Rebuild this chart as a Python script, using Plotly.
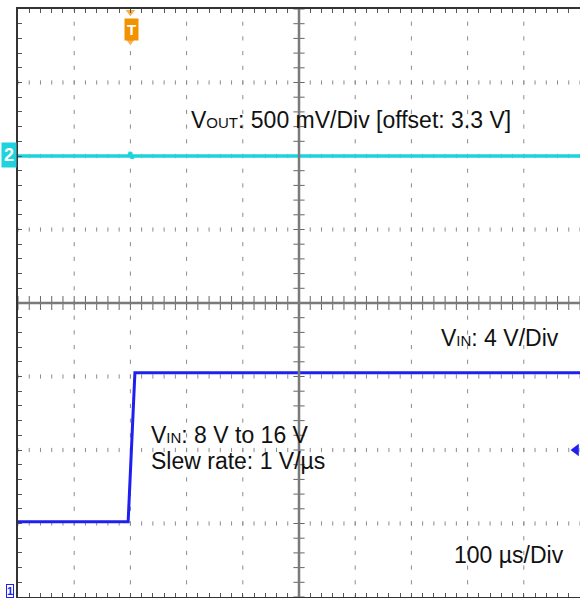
import numpy as np
import plotly.graph_objects as go

# screen: 10 div x 100 us, trigger at 0 us (2nd division); vertical in divisions (-4..4)
T_MIN, T_MAX = -200, 800

# VOUT (ch2): 500 mV/Div, offset 3.3 V, trace placed at +2 div
vout_t = [-200, -3, 0, 3, 6, 12, 800]
vout_v = [3.30, 3.30, 3.325, 3.285, 3.30, 3.30, 3.30]
VOUT_SCALE, VOUT_OFFSET, VOUT_POS = 0.5, 3.3, 2.0

# VIN (ch1): 4 V/Div, ground at -5 div (off screen)
vin_t = [-200, -4, 8, 800]
vin_v = [8.1, 8.1, 16.2, 16.2]
VIN_SCALE, VIN_POS = 4.0, -5.0
TRIG_LEVEL = 12.0

W, H = 580, 598
ML, MR, MT, MB = 18, 0, 9, 1
PW, PH = W - ML - MR, H - MT - MB


def px(x):  # pixel -> paper
    return (x - ML) / PW


def py(y):
    return (H - MB - y) / PH


vout_div = [(v - VOUT_OFFSET) / VOUT_SCALE + VOUT_POS for v in vout_v]
vin_div = [v / VIN_SCALE + VIN_POS for v in vin_v]

fig = go.Figure()

# dotted graticule
grid_x = [t for t in range(T_MIN + 100, T_MAX, 100) if t != 300]
grid_y = [-3, -2, -1, 1, 2, 3]
minor_y = np.round(np.arange(-4, 4.001, 0.2), 3)
minor_x = np.arange(T_MIN, T_MAX + 1, 20)
dx, dy = [], []
for gx in grid_x:
    dx += [gx] * len(minor_y)
    dy += list(minor_y)
for gy in grid_y:
    dx += list(minor_x)
    dy += [gy] * len(minor_x)
fig.add_trace(go.Scatter(x=dx, y=dy, mode="markers", hoverinfo="skip",
                         marker=dict(symbol="line-ns", size=3, color="#8c8c8c",
                                     line=dict(color="#8c8c8c", width=1))))

# centre cross with ticks
fig.add_shape(type="line", x0=T_MIN, x1=T_MAX, y0=0, y1=0, line=dict(color="#7a7a7a", width=2.5))
fig.add_shape(type="line", x0=300, x1=300, y0=-4, y1=4, line=dict(color="#7a7a7a", width=2.5))
fig.add_trace(go.Scatter(x=minor_x, y=[0] * len(minor_x), mode="markers", hoverinfo="skip",
                         marker=dict(symbol="line-ns", size=10, color="#666666",
                                     line=dict(color="#666666", width=1))))
fig.add_trace(go.Scatter(x=[300] * len(minor_y), y=minor_y, mode="markers", hoverinfo="skip",
                         marker=dict(symbol="line-ew", size=8, color="#666666",
                                     line=dict(color="#666666", width=1))))

# waveforms
fig.add_trace(go.Scatter(x=vout_t, y=vout_div, mode="lines", name="VOUT",
                         line=dict(color="#1ED3DE", width=3.5)))
fig.add_trace(go.Scatter(x=vin_t, y=vin_div, mode="lines", name="VIN",
                         line=dict(color="#1F1FF0", width=3)))

# trigger position / level markers
fig.add_trace(go.Scatter(x=[0, 0], y=[3.96, 3.56], mode="markers", cliponaxis=False, hoverinfo="skip",
                         marker=dict(symbol="triangle-down", size=[10, 9], color="#F39200")))
fig.add_annotation(x=px(131), y=py(29), xref="paper", yref="paper", text="<b>T</b>",
                   xanchor="center", yanchor="middle",
                   showarrow=False, font=dict(family="Liberation Sans", size=15, color="white"),
                   bgcolor="#F39200", borderpad=2)
fig.add_trace(go.Scatter(x=[T_MAX - 7], y=[TRIG_LEVEL / VIN_SCALE + VIN_POS],
                         mode="markers", cliponaxis=False, hoverinfo="skip",
                         marker=dict(symbol="triangle-left", size=11, color="#1F1FF0")))

# channel markers
fig.add_trace(go.Scatter(x=[T_MIN - 3], y=[VOUT_POS], mode="markers", cliponaxis=False,
                         hoverinfo="skip",
                         marker=dict(symbol="triangle-right", size=9, color="#1ED3DE")))
fig.add_annotation(x=px(9), y=py(155), xref="paper", yref="paper", text="<b>2</b>",
                   xanchor="center", yanchor="middle",
                   showarrow=False, font=dict(family="Liberation Sans", size=18, color="white"),
                   bgcolor="#1ED3DE", borderpad=2)
fig.add_annotation(x=px(10), y=py(591), xref="paper", yref="paper", text="<b>1</b>",
                   xanchor="center", yanchor="middle",
                   showarrow=False, font=dict(family="Liberation Sans", size=11, color="#1F1FF0"),
                   bgcolor="white", bordercolor="#1F1FF0", borderwidth=1, borderpad=0)

# labels
lab = dict(family="Liberation Sans, Arial", size=23, color="#111111")
sub = "<span style='font-size:15px'>%s</span>"
labels = [
    (189, 120, "V" + sub % "OUT" + ": 500 mV/Div [offset: 3.3 V]"),
    (439, 338, "V" + sub % "IN" + ": 4 V/Div"),
    (149, 435, "V" + sub % "IN" + ": 8 V to 16 V"),
    (149, 461, "Slew rate: 1 V/µs"),
    (452, 555, "100 µs/Div"),
]
for x, y, t in labels:
    fig.add_annotation(x=px(x), y=py(y), xref="paper", yref="paper", text=t,
                       xanchor="left", yanchor="middle", showarrow=False, font=lab)

fig.update_xaxes(range=[T_MIN, T_MAX], showgrid=False, zeroline=False, showticklabels=False,
                 showline=True, linecolor="#333333", linewidth=1.5, mirror="ticks",
                 ticks="inside", ticklen=4, tickcolor="#555555", tick0=0, dtick=20)
fig.update_yaxes(range=[-4, 4], showgrid=False, zeroline=False, showticklabels=False,
                 showline=True, linecolor="#333333", linewidth=1.5,
                 ticks="inside", ticklen=4, tickcolor="#555555", tick0=0, dtick=0.2)

fig.update_layout(width=W, height=H, margin=dict(l=ML, r=MR, t=MT, b=MB),
                  plot_bgcolor="white", paper_bgcolor="white", showlegend=False)

fig.write_html("out.html", config={"displayModeBar": False},
               post_script="document.body.style.margin='0';")
